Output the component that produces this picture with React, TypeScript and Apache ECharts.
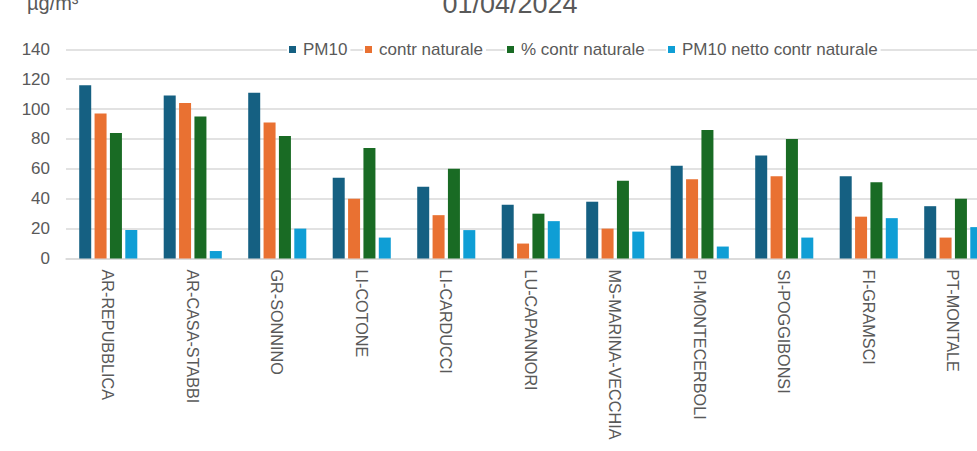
import React, { useEffect, useRef } from "react";
import * as echarts from "echarts";

const categories = [
  "AR-REPUBBLICA",
  "AR-CASA-STABBI",
  "GR-SONNINO",
  "LI-COTONE",
  "LI-CARDUCCI",
  "LU-CAPANNORI",
  "MS-MARINA-VECCHIA",
  "PI-MONTECERBOLI",
  "SI-POGGIBONSI",
  "FI-GRAMSCI",
  "PT-MONTALE",
];
const pm10 = [116, 109, 111, 54, 48, 36, 38, 62, 69, 55, 35];
const contrNaturale = [97, 104, 91, 40, 29, 10, 20, 53, 55, 28, 14];
const pctContrNaturale = [84, 95, 82, 74, 60, 30, 52, 86, 80, 51, 40];
const pm10Netto = [19, 5, 20, 14, 19, 25, 18, 8, 14, 27, 21];

const seriesNames = ["PM10", "contr naturale", "% contr naturale", "PM10 netto contr naturale"];
const seriesColors = ["#156082", "#E97132", "#196B24", "#0F9ED5"];
const seriesData = [pm10, contrNaturale, pctContrNaturale, pm10Netto];
const legendLefts = [287, 363, 505, 666];

const titleText = "01/04/2024";
const unitText = "µg/m³";
const yMin = 0;
const yMax = 140;
const yInterval = 20;

const FONT = "'Liberation Sans', Arial, sans-serif";
const TEXT_COLOR = "#595959";

export default function App() {
  const ref = useRef<HTMLDivElement>(null);

  useEffect(() => {
    if (!ref.current) return;
    const chart = echarts.init(ref.current, undefined, { renderer: "svg" });
    chart.setOption({
      animation: false,
      backgroundColor: "#ffffff",
      textStyle: { fontFamily: FONT },
      graphic: [
        {
          type: "text",
          x: 510,
          y: 4,
          style: {
            text: titleText,
            fontSize: 27,
            fontFamily: FONT,
            fill: TEXT_COLOR,
            align: "center",
            verticalAlign: "middle",
          },
        },
        {
          type: "text",
          x: 27,
          y: 3,
          style: {
            text: unitText,
            fontSize: 20,
            fontFamily: FONT,
            fill: TEXT_COLOR,
            align: "left",
            verticalAlign: "middle",
          },
        },
      ],
      legend: seriesNames.map((name, i) => ({
        data: [name],
        left: legendLefts[i],
        top: 41,
        orient: "horizontal",
        icon: "rect",
        itemWidth: 7,
        itemHeight: 7,
        itemGap: 0,
        padding: [0, 3, 0, 2],
        backgroundColor: "#ffffff",
        selectedMode: false,
        textStyle: {
          fontSize: 17,
          fontFamily: FONT,
          color: TEXT_COLOR,
          padding: [0, 0, 0, 2],
        },
      })),
      grid: {
        left: 66,
        right: 34.5,
        top: 49.3,
        bottom: 192.5,
        containLabel: false,
        outerBoundsMode: "none",
      },
      xAxis: {
        type: "category",
        data: categories,
        axisLine: { show: true, lineStyle: { color: "#D9D9D9", width: 1.5 } },
        axisTick: { show: false },
        axisLabel: {
          rotate: -90,
          margin: 11,
          fontSize: 16.2,
          fontFamily: FONT,
          color: TEXT_COLOR,
          interval: 0,
        },
        splitLine: { show: false },
      },
      yAxis: {
        type: "value",
        min: yMin,
        max: yMax,
        interval: yInterval,
        axisLine: { show: false },
        axisTick: { show: false },
        axisLabel: {
          fontSize: 17,
          fontFamily: FONT,
          color: TEXT_COLOR,
          margin: 16,
        },
        splitLine: { show: true, lineStyle: { color: "#D9D9D9", width: 1.5 } },
      },
      series: seriesNames.map((name, i) => ({
        name,
        type: "bar",
        data: seriesData[i],
        barWidth: 12,
        barGap: "28%",
        itemStyle: { color: seriesColors[i] },
      })),
    });
    return () => chart.dispose();
  }, []);

  return (
    <div
      style={{
        position: "fixed",
        left: 0,
        top: 0,
        width: 977,
        height: 451,
        overflow: "hidden",
        background: "#ffffff",
      }}
    >
      <div ref={ref} style={{ width: 1030, height: 451 }} />
    </div>
  );
}
